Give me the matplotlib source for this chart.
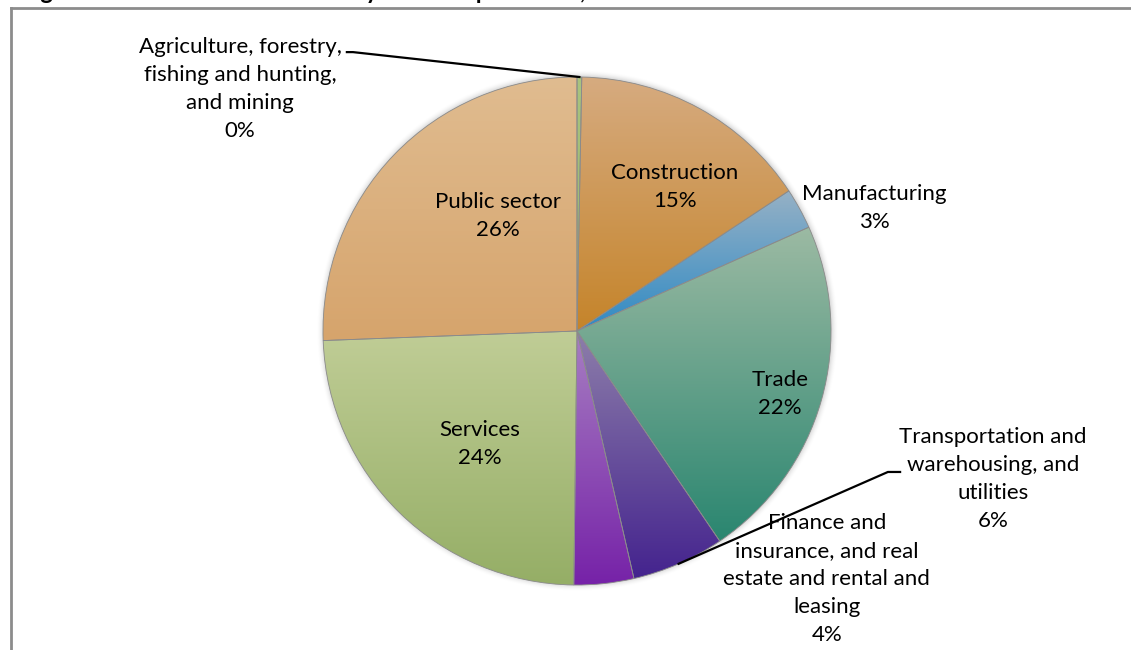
import numpy as np
import matplotlib.pyplot as plt
from matplotlib.lines import Line2D

plt.rcParams['font.family'] = ['Lato', 'DejaVu Sans']

# share of total by sector, in percent
sectors = ['Agriculture, forestry,\nfishing and hunting,\nand mining',
           'Construction',
           'Manufacturing',
           'Trade',
           'Transportation and\nwarehousing, and\nutilities',
           'Finance and\ninsurance, and real\nestate and rental and\nleasing',
           'Services',
           'Public sector']
shares = [0.3, 15.4, 2.6, 22.2, 5.9, 3.8, 24.2, 25.6]

# gradient colours for each slice (top, bottom)
top_colors = ['#a9c47f', '#d6ab80', '#96b1c6', '#9cbaa3', '#8d7eaa', '#a77fc2', '#c0cd96', '#e0bc90']
bottom_colors = ['#97b569', '#c5842a', '#2f8ac4', '#2a8670', '#44238e', '#7622a8', '#95ae66', '#d6a46c']

# label centres in pie-radius units
label_xy = [(-1.327, 0.953), (0.386, 0.567), (1.169, 0.484), (0.799, -0.25),
            (1.638, -0.583), (0.984, -0.976), (-0.382, -0.445), (-0.311, 0.453)]

title = 'Figure 4: Construction demand by resident purchaser, 2012'

W, H = 1131, 650
cx, cy, R = 577, 331, 254   # pie centre and radius in pixels

fig = plt.figure(figsize=(W / 100, H / 100), dpi=100)
ax = fig.add_axes([0, 0, 1, 1])

wedges, _ = ax.pie(shares, startangle=90, counterclock=False, radius=1, center=(0, 0),
                   wedgeprops=dict(edgecolor='#8a8a8a', linewidth=0.6))

# soft shadow around the pie
gx = np.linspace(-1.15, 1.15, 600)
gxx, gyy = np.meshgrid(gx, gx)
rr = np.sqrt(gxx ** 2 + gyy ** 2)
sh = np.zeros(rr.shape + (4,))
sh[..., 3] = 0.35 * np.clip(1 - (rr - 0.985) / 0.045, 0, 1) ** 2
sh[rr < 0.985, 3] = 0
ax.imshow(sh, extent=(-1.15, 1.15, -1.15, 1.15), origin='lower', aspect='auto',
          interpolation='bilinear', zorder=0)

# vertical gradient fill clipped to each wedge
for w, c_top, c_bot in zip(wedges, top_colors, bottom_colors):
    ext = w.get_path().get_extents()
    t = np.linspace(0, 1, 256)[:, None, None]
    a = np.array(plt.matplotlib.colors.to_rgb(c_top))
    b = np.array(plt.matplotlib.colors.to_rgb(c_bot))
    grad = a * (1 - t) + b * t
    im = ax.imshow(grad, extent=(ext.x0, ext.x1, ext.y0, ext.y1), origin='upper',
                   aspect='auto', interpolation='bilinear', zorder=1)
    im.set_clip_path(w)
    w.set_facecolor('none')
    w.set_zorder(2)

# data labels
for name, val, (lx, ly) in zip(sectors, shares, label_xy):
    ax.text(lx, ly, f'{name}\n{val:.0f}%', ha='center', va='center',
            fontsize=16, linespacing=1.5, color='black', zorder=5)

# leader lines for the two outside labels
for idx, (sx0, sx1, sy) in [(0, (-0.906, -0.882, 1.098)), (4, (1.272, 1.224, -0.555))]:
    w = wedges[idx]
    mid = np.deg2rad((w.theta1 + w.theta2) / 2)
    ax.plot([sx0, sx1, np.cos(mid)], [sy, sy, np.sin(mid)], color='black', lw=1.6, zorder=4)

ax.set_xlim(-cx / R, (W - cx) / R)
ax.set_ylim(-(H - cy) / R, cy / R)
ax.set_aspect('auto')
ax.axis('off')

# chart border (runs off the right and bottom)
fig.add_artist(Line2D([10.5 / W, 10.5 / W], [0, 1 - 8 / H], transform=fig.transFigure,
                      color='#8c8c8c', lw=2))
fig.add_artist(Line2D([10.5 / W, 1], [1 - 8 / H, 1 - 8 / H], transform=fig.transFigure,
                      color='#8c8c8c', lw=2))

# heading sits above the visible area, only its descenders show
fig.text(21 / W, 1 + 1 / H, title, fontsize=17, fontweight='bold', va='baseline')

fig.savefig('out.png', dpi=100)
